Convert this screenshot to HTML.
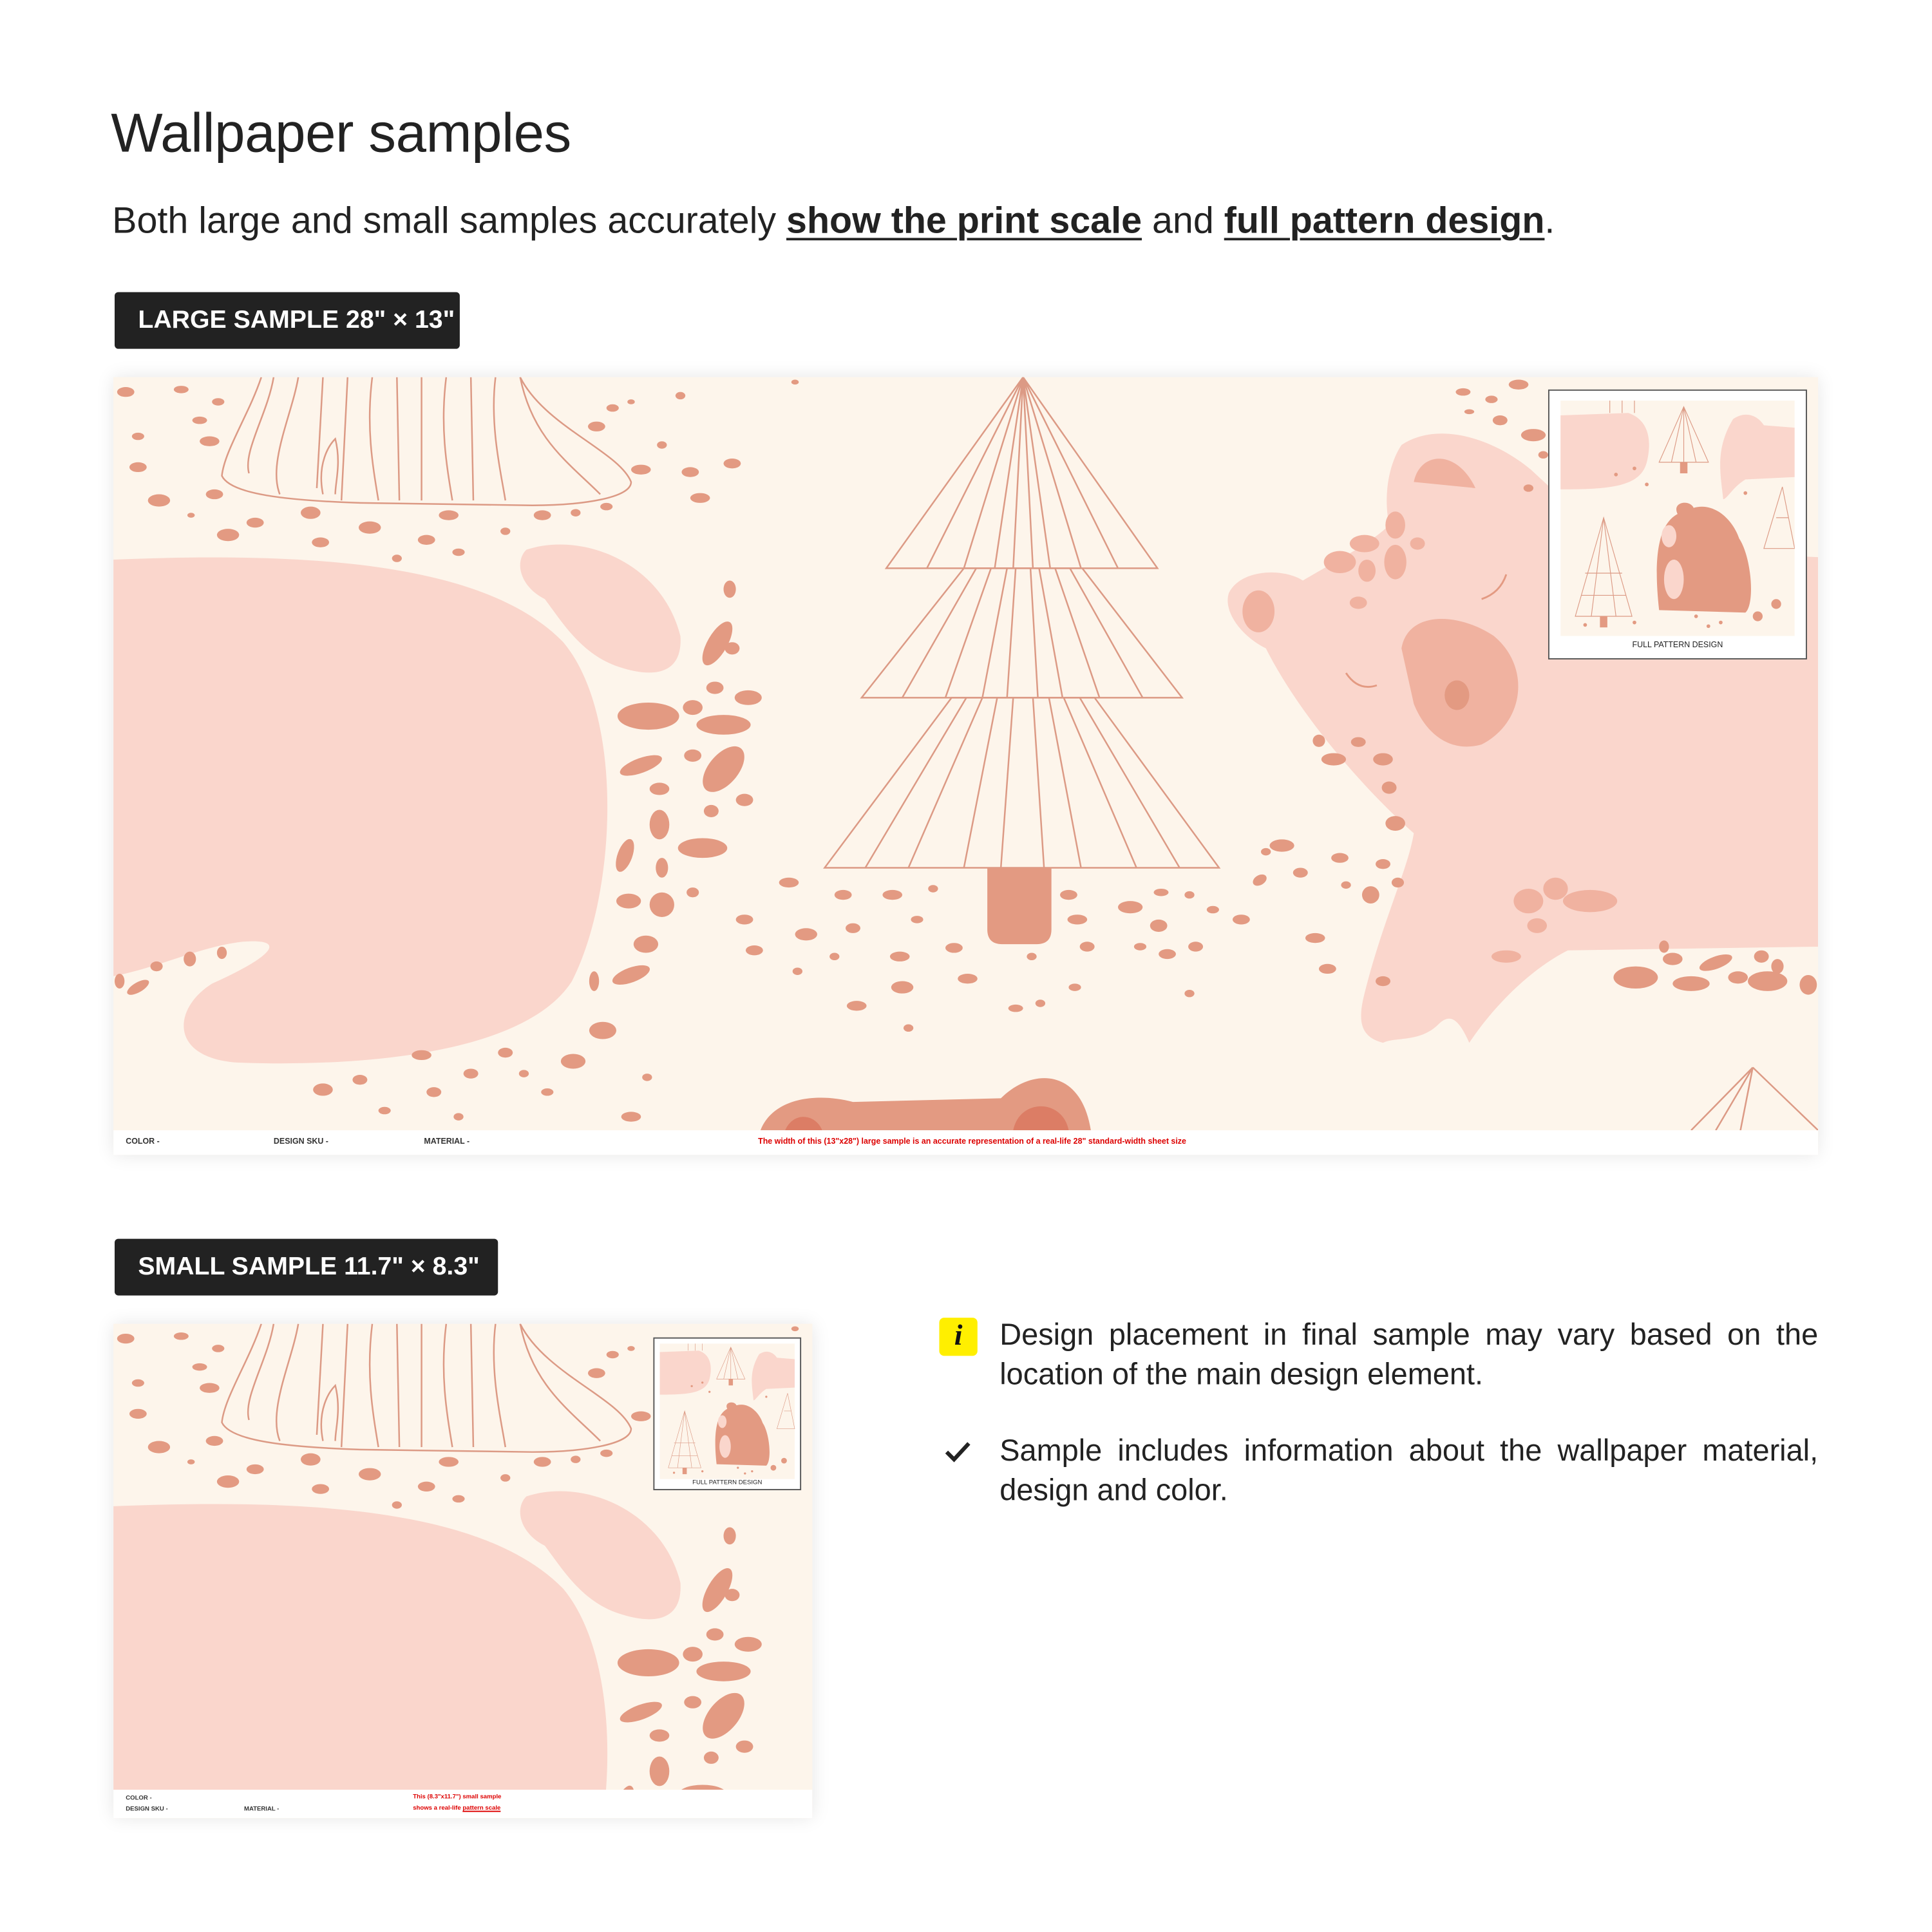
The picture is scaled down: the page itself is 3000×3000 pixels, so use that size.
<!DOCTYPE html>
<html><head><meta charset="utf-8">
<style>
html,body{margin:0;padding:0;background:#fff;width:3000px;height:3000px;overflow:hidden;position:relative}
#w{position:absolute;left:0;top:0;width:1560px;height:1560px;overflow:hidden;transform:scale(1.914);transform-origin:0 0;font-family:"Liberation Sans",sans-serif;color:#222}
.abs{position:absolute}
h1{position:absolute;left:90px;top:84px;margin:0;font-size:44.5px;font-weight:normal;letter-spacing:-0.2px}
.sub{position:absolute;left:91px;top:163px;font-size:30px;white-space:nowrap}
.sub u{font-weight:bold;text-decoration-thickness:2px;text-underline-offset:4px}
.tag{position:absolute;background:#222;color:#fff;font-weight:bold;font-size:20.5px;border-radius:3px;line-height:46px;padding:0 0 0 19px;box-sizing:border-box}
.samp{position:absolute;background:#fdf5eb;box-shadow:0 0 14px rgba(0,0,0,0.10);overflow:hidden}
.foot{position:absolute;left:0;right:0;bottom:0;background:#fff;font-size:6.5px;font-weight:bold;color:#333}
.note{position:absolute;left:811px;width:664px;font-size:24.5px;line-height:32px;text-align:justify}
</style></head><body><div id="w">
<h1>Wallpaper samples</h1>
<div class="sub">Both large and small samples accurately <u>show the print scale</u> and <u>full pattern design</u>.</div>
<div class="tag" style="left:93px;top:237px;width:280px;height:46px">LARGE SAMPLE 28" × 13"</div>

<svg width="0" height="0" style="position:absolute">
<defs>
<g id="pat">
<rect x="0" y="0" width="1383" height="611" fill="#fdf5eb"/>
<g fill="none" stroke="#dc9a85" stroke-width="1.3">
<path d="M120,0 C110,30 90,60 88,80 C95,95 140,100 200,102 L340,104 C380,104 420,98 420,85 C410,60 350,40 330,0"/>
<path d="M130,0 C125,30 105,60 110,78"/><path d="M150,0 C145,30 125,70 135,95"/>
<path d="M170,0 L165,90"/><path d="M190,0 L185,100"/><path d="M210,0 C205,40 210,70 215,100"/>
<path d="M230,0 L232,100"/><path d="M250,0 L250,100"/><path d="M270,0 C265,40 270,70 275,100"/>
<path d="M290,0 L292,100"/><path d="M310,0 C305,40 315,80 318,100"/><path d="M330,0 C340,50 370,70 395,95"/>
<path d="M170,95 C165,70 175,55 180,50 C185,70 180,85 180,95"/>
</g>
<path d="M0,148 C150,142 300,148 365,215 C415,275 408,420 372,490 C335,548 205,560 100,556 C45,552 48,512 80,492 C125,472 145,455 105,458 C70,462 40,478 0,486 Z" fill="#fad6cc"/>
<path d="M335,140 C380,125 445,150 460,210 C462,240 440,245 410,235 C380,225 365,200 350,180 C330,170 325,150 335,140 Z" fill="#fad6cc"/>
<g fill="none" stroke="#dc9a85" stroke-width="1.3">
<path d="M738,0 L627,155 L847,155 Z"/>
<path d="M738,0 L660,155 M738,0 L690,155 M738,0 L715,155 M738,0 L760,155 M738,0 L785,155 M738,0 L815,155 M738,0 L730,155 M738,0 L746,155"/>
<path d="M690,155 L786,155 L867,260 L607,260 Z"/>
<path d="M700,155 L640,260 M712,155 L675,260 M725,155 L705,260 M732,155 L725,260 M744,155 L750,260 M751,155 L770,260 M764,155 L800,260 M776,155 L835,260"/>
<path d="M680,260 L796,260 L897,398 L577,398 Z"/>
<path d="M692,260 L610,398 M705,260 L645,398 M717,260 L690,398 M730,260 L720,398 M746,260 L755,398 M759,260 L785,398 M771,260 L830,398 M784,260 L865,398"/>
</g>
<path d="M709,398 L761,398 L761,448 Q761,460 749,460 L721,460 Q709,460 709,448 Z" fill="#e39a82"/>
<path d="M1045,55 C1075,35 1120,50 1150,75 L1220,140 L1383,146 L1383,462 L1180,465 C1150,480 1120,510 1100,540 C1092,522 1085,515 1075,525 C1060,540 1040,535 1030,540 C1010,535 1010,520 1015,500 C1030,440 1050,400 1055,370 C1010,330 960,270 935,220 C915,210 900,190 905,175 C915,155 950,155 965,165 C990,150 1020,135 1035,120 C1030,95 1035,70 1045,55 Z" fill="#fad6cc"/>
<path d="M1055,85 C1060,60 1090,58 1105,90 Z" fill="#f0b2a0"/>
<ellipse cx="929" cy="190" rx="13" ry="17" fill="#f0b2a0"/>
<path d="M1045,220 C1050,190 1090,190 1120,210 C1150,235 1145,280 1110,298 C1085,305 1065,290 1055,265 Z" fill="#f0b2a0"/>
<ellipse cx="1090" cy="258" rx="10" ry="12" fill="#e39a82"/>
<g fill="#f0b2a0"><ellipse cx="1040" cy="120" rx="8" ry="11"/><ellipse cx="1015" cy="135" rx="12" ry="7"/><ellipse cx="995" cy="150" rx="13" ry="9"/><ellipse cx="1017" cy="157" rx="7" ry="9"/><ellipse cx="1040" cy="150" rx="9" ry="14"/><ellipse cx="1058" cy="135" rx="6" ry="5"/><ellipse cx="1010" cy="183" rx="7" ry="5"/>
<ellipse cx="1148" cy="425" rx="12" ry="10"/><ellipse cx="1170" cy="415" rx="10" ry="9"/><ellipse cx="1198" cy="425" rx="22" ry="9"/><ellipse cx="1155" cy="445" rx="8" ry="6"/><ellipse cx="1130" cy="470" rx="12" ry="5"/></g>
<g fill="none" stroke="#e39a82" stroke-width="1.5"><path d="M1000,240 Q1010,255 1025,250"/><path d="M1110,180 Q1125,175 1130,160"/></g>
<path d="M525,611 C535,585 570,580 600,588 L720,585 C745,560 785,560 793,611 Z" fill="#e39a82"/>
<path d="M545,611 C552,595 570,598 575,611 Z M730,611 C735,585 770,585 775,611 Z" fill="#dc7d65"/>
<g fill="none" stroke="#dc9a85" stroke-width="1.3"><path d="M1330,560 L1280,611 M1330,560 L1383,611 M1330,560 L1300,611 M1330,560 L1320,611"/></g>
<g fill="#e39a82">
<ellipse cx="10" cy="12" rx="7" ry="4"/><ellipse cx="55" cy="10" rx="6" ry="3"/><ellipse cx="85" cy="20" rx="5" ry="3"/><ellipse cx="70" cy="35" rx="6" ry="3"/><ellipse cx="20" cy="48" rx="5" ry="3"/><ellipse cx="78" cy="52" rx="8" ry="4"/><ellipse cx="20" cy="73" rx="7" ry="4"/><ellipse cx="37" cy="100" rx="9" ry="5"/><ellipse cx="63" cy="112" rx="3" ry="2"/><ellipse cx="82" cy="95" rx="7" ry="4"/><ellipse cx="93" cy="128" rx="9" ry="5"/><ellipse cx="115" cy="118" rx="7" ry="4"/><ellipse cx="160" cy="110" rx="8" ry="5"/><ellipse cx="168" cy="134" rx="7" ry="4"/><ellipse cx="208" cy="122" rx="9" ry="5"/><ellipse cx="230" cy="147" rx="4" ry="3"/><ellipse cx="254" cy="132" rx="7" ry="4"/><ellipse cx="272" cy="112" rx="8" ry="4"/><ellipse cx="280" cy="142" rx="5" ry="3"/><ellipse cx="318" cy="125" rx="4" ry="3"/><ellipse cx="348" cy="112" rx="7" ry="4"/><ellipse cx="375" cy="110" rx="4" ry="3"/><ellipse cx="400" cy="105" rx="5" ry="3"/><ellipse cx="392" cy="40" rx="7" ry="4"/><ellipse cx="405" cy="25" rx="5" ry="3"/><ellipse cx="428" cy="75" rx="8" ry="4"/><ellipse cx="445" cy="55" rx="4" ry="3"/><ellipse cx="468" cy="77" rx="7" ry="4"/><ellipse cx="476" cy="98" rx="8" ry="4"/><ellipse cx="502" cy="70" rx="7" ry="4"/><ellipse cx="460" cy="15" rx="4" ry="3"/><ellipse cx="420" cy="20" rx="3" ry="2"/><ellipse cx="553" cy="4" rx="3" ry="2"/>
<ellipse cx="490" cy="216" rx="8" ry="20" transform="rotate(30 490 216)"/><ellipse cx="500" cy="172" rx="5" ry="7"/><ellipse cx="502" cy="220" rx="6" ry="5"/><ellipse cx="488" cy="252" rx="7" ry="5"/><ellipse cx="434" cy="275" rx="25" ry="11"/><ellipse cx="470" cy="268" rx="8" ry="6"/><ellipse cx="495" cy="282" rx="22" ry="8"/><ellipse cx="515" cy="260" rx="11" ry="6"/><ellipse cx="495" cy="318" rx="12" ry="22" transform="rotate(40 495 318)"/><ellipse cx="470" cy="307" rx="7" ry="5"/><ellipse cx="428" cy="315" rx="18" ry="6" transform="rotate(-20 428 315)"/><ellipse cx="443" cy="334" rx="8" ry="5"/><ellipse cx="485" cy="352" rx="6" ry="5"/><ellipse cx="512" cy="343" rx="7" ry="5"/><ellipse cx="443" cy="363" rx="8" ry="12"/><ellipse cx="478" cy="382" rx="20" ry="8"/><ellipse cx="415" cy="388" rx="6" ry="14" transform="rotate(20 415 388)"/><ellipse cx="445" cy="398" rx="5" ry="8"/><ellipse cx="418" cy="425" rx="10" ry="6"/><ellipse cx="445" cy="428" rx="10" ry="10"/><ellipse cx="470" cy="418" rx="5" ry="4"/><ellipse cx="432" cy="460" rx="10" ry="7"/><ellipse cx="420" cy="485" rx="16" ry="6" transform="rotate(-20 420 485)"/><ellipse cx="390" cy="490" rx="4" ry="8"/><ellipse cx="397" cy="530" rx="11" ry="7"/><ellipse cx="420" cy="600" rx="8" ry="4"/><ellipse cx="433" cy="568" rx="4" ry="3"/><ellipse cx="373" cy="555" rx="10" ry="6"/><ellipse cx="352" cy="580" rx="5" ry="3"/><ellipse cx="333" cy="565" rx="4" ry="3"/><ellipse cx="318" cy="548" rx="6" ry="4"/><ellipse cx="290" cy="565" rx="6" ry="4"/><ellipse cx="260" cy="580" rx="6" ry="4"/><ellipse cx="250" cy="550" rx="8" ry="4"/><ellipse cx="200" cy="570" rx="6" ry="4"/><ellipse cx="170" cy="578" rx="8" ry="5"/><ellipse cx="220" cy="595" rx="5" ry="3"/><ellipse cx="280" cy="600" rx="4" ry="3"/>
<ellipse cx="35" cy="478" rx="5" ry="4"/><ellipse cx="62" cy="472" rx="5" ry="6"/><ellipse cx="88" cy="467" rx="4" ry="5"/><ellipse cx="20" cy="495" rx="10" ry="4" transform="rotate(-30 20 495)"/><ellipse cx="5" cy="490" rx="4" ry="6"/>
<ellipse cx="548" cy="410" rx="8" ry="4"/><ellipse cx="592" cy="420" rx="7" ry="4"/><ellipse cx="632" cy="420" rx="8" ry="4"/><ellipse cx="665" cy="415" rx="4" ry="3"/><ellipse cx="512" cy="440" rx="7" ry="4"/><ellipse cx="562" cy="452" rx="9" ry="5"/><ellipse cx="600" cy="447" rx="6" ry="4"/><ellipse cx="652" cy="440" rx="5" ry="3"/><ellipse cx="520" cy="465" rx="7" ry="4"/><ellipse cx="585" cy="470" rx="4" ry="3"/><ellipse cx="638" cy="470" rx="8" ry="4"/><ellipse cx="682" cy="463" rx="7" ry="4"/><ellipse cx="693" cy="488" rx="8" ry="4"/><ellipse cx="640" cy="495" rx="9" ry="5"/><ellipse cx="603" cy="510" rx="8" ry="4"/><ellipse cx="555" cy="482" rx="4" ry="3"/><ellipse cx="645" cy="528" rx="4" ry="3"/><ellipse cx="732" cy="512" rx="6" ry="3"/><ellipse cx="752" cy="508" rx="4" ry="3"/><ellipse cx="780" cy="495" rx="5" ry="3"/><ellipse cx="745" cy="470" rx="4" ry="3"/><ellipse cx="775" cy="420" rx="7" ry="4"/><ellipse cx="790" cy="462" rx="6" ry="4"/><ellipse cx="782" cy="440" rx="8" ry="4"/><ellipse cx="825" cy="430" rx="10" ry="5"/><ellipse cx="848" cy="445" rx="7" ry="5"/><ellipse cx="833" cy="462" rx="5" ry="3"/><ellipse cx="855" cy="468" rx="7" ry="4"/><ellipse cx="878" cy="462" rx="6" ry="4"/><ellipse cx="850" cy="418" rx="6" ry="3"/><ellipse cx="873" cy="420" rx="4" ry="3"/><ellipse cx="892" cy="432" rx="5" ry="3"/><ellipse cx="915" cy="440" rx="7" ry="4"/><ellipse cx="930" cy="408" rx="6" ry="4" transform="rotate(-30 930 408)"/><ellipse cx="948" cy="380" rx="10" ry="5"/><ellipse cx="963" cy="402" rx="6" ry="4"/><ellipse cx="935" cy="385" rx="4" ry="3"/><ellipse cx="995" cy="390" rx="7" ry="4"/><ellipse cx="1000" cy="412" rx="4" ry="3"/><ellipse cx="1020" cy="420" rx="7" ry="7"/><ellipse cx="1030" cy="395" rx="6" ry="4"/><ellipse cx="1042" cy="410" rx="5" ry="4"/><ellipse cx="1040" cy="362" rx="8" ry="6"/><ellipse cx="1035" cy="333" rx="6" ry="5"/><ellipse cx="1030" cy="310" rx="8" ry="5"/><ellipse cx="1010" cy="296" rx="6" ry="4"/><ellipse cx="990" cy="310" rx="10" ry="5"/><ellipse cx="978" cy="295" rx="5" ry="5"/><ellipse cx="975" cy="455" rx="8" ry="4"/><ellipse cx="985" cy="480" rx="7" ry="4"/><ellipse cx="1030" cy="490" rx="6" ry="4"/><ellipse cx="873" cy="500" rx="4" ry="3"/>
<ellipse cx="1235" cy="487" rx="18" ry="9"/><ellipse cx="1265" cy="472" rx="8" ry="5"/><ellipse cx="1280" cy="492" rx="15" ry="6"/><ellipse cx="1300" cy="475" rx="14" ry="5" transform="rotate(-20 1300 475)"/><ellipse cx="1318" cy="487" rx="8" ry="5"/><ellipse cx="1342" cy="490" rx="16" ry="8"/><ellipse cx="1337" cy="470" rx="6" ry="5"/><ellipse cx="1350" cy="478" rx="5" ry="6"/><ellipse cx="1375" cy="493" rx="7" ry="8"/><ellipse cx="1258" cy="462" rx="4" ry="5"/>
<ellipse cx="1095" cy="12" rx="6" ry="3"/><ellipse cx="1118" cy="18" rx="5" ry="3"/><ellipse cx="1125" cy="35" rx="6" ry="4"/><ellipse cx="1100" cy="28" rx="4" ry="2"/><ellipse cx="1152" cy="47" rx="10" ry="5"/><ellipse cx="1160" cy="63" rx="4" ry="3"/><ellipse cx="1148" cy="90" rx="4" ry="3"/><ellipse cx="1140" cy="6" rx="8" ry="4"/>
</g>
</g>
<g id="mini">
<rect x="0" y="0" width="190" height="191" fill="#fdf5eb"/>
<path d="M0,12 L55,10 C70,15 75,30 70,50 C65,70 40,72 0,72 Z" fill="#fad6cc"/>
<path d="M140,15 C150,8 160,12 165,20 L190,22 L190,62 L150,64 C140,70 135,80 132,80 C130,60 125,40 140,15 Z" fill="#fad6cc"/>
<g fill="none" stroke="#dc9a85" stroke-width="0.6"><path d="M100,5 L80,50 L120,50 Z M100,5 L90,50 M100,5 L110,50 M100,5 L100,50"/><path d="M35,95 L12,175 L58,175 Z M35,95 L25,175 M35,95 L45,175 M20,140 L50,140 M17,158 L53,158"/><path d="M180,70 L165,120 L190,120 Z M175,95 L185,95"/><path d="M40,0 L40,10 M50,0 L50,10 M60,0 L60,10"/></g>
<rect x="97" y="50" width="6" height="9" fill="#e39a82"/><rect x="32" y="175" width="6" height="9" fill="#e39a82"/>
<path d="M80,170 C75,125 80,100 95,92 C90,82 105,80 108,87 C125,82 140,97 145,112 C155,127 158,165 150,172 Z" fill="#e39a82"/>
<ellipse cx="92" cy="145" rx="8" ry="16" fill="#fad6cc"/><ellipse cx="88" cy="110" rx="6" ry="9" fill="#fad6cc"/>
<g fill="#e39a82"><circle cx="20" cy="182" r="1.5"/><circle cx="60" cy="180" r="1.5"/><circle cx="120" cy="183" r="1.5"/><circle cx="70" cy="68" r="1.5"/><circle cx="150" cy="75" r="1.5"/><circle cx="160" cy="175" r="4"/><circle cx="175" cy="165" r="4"/><circle cx="45" cy="60" r="1.5"/><circle cx="60" cy="55" r="1.5"/><circle cx="110" cy="175" r="1.5"/><circle cx="130" cy="180" r="1.5"/></g>
</g>
</defs></svg>

<div class="samp" style="left:92px;top:306px;width:1383px;height:631px">
<svg class="abs" style="left:0;top:0" width="1383" height="611"><use href="#pat"/></svg>
<div class="abs" style="left:1164px;top:10px;width:208px;height:217px;background:#fff;border:1px solid #555">
<svg class="abs" style="left:9px;top:8px" width="190" height="191"><use href="#mini"/></svg>
<div class="abs" style="left:0;right:0;top:203px;text-align:center;font-size:6.5px;color:#222">FULL PATTERN DESIGN</div>
</div>
<div class="foot" style="height:20px">
<span class="abs" style="left:10px;top:6px">COLOR -</span>
<span class="abs" style="left:130px;top:6px">DESIGN SKU -</span>
<span class="abs" style="left:252px;top:6px">MATERIAL -</span>
<span class="abs" style="left:523px;top:6px;color:#d00">The width of this (13"x28") large sample is an accurate representation of a real-life 28" standard-width sheet size</span>
</div>
</div>

<div class="tag" style="left:93px;top:1005px;width:311px;height:46px">SMALL SAMPLE 11.7" × 8.3"</div>

<div class="samp" style="left:92px;top:1074px;width:567px;height:401px">
<svg class="abs" style="left:0;top:0" width="567" height="378"><use href="#pat"/></svg>
<div class="abs" style="left:438px;top:11px;width:118px;height:122px;background:#fff;border:1px solid #555">
<svg class="abs" style="left:4px;top:4px" width="110" height="110" viewBox="0 0 190 191"><use href="#mini"/></svg>
<div class="abs" style="left:0;right:0;top:114px;text-align:center;font-size:5px;color:#222">FULL PATTERN DESIGN</div>
</div>
<div class="foot" style="height:23px;font-size:5px">
<span class="abs" style="left:10px;top:4px">COLOR -</span>
<span class="abs" style="left:10px;top:13px">DESIGN SKU -</span>
<span class="abs" style="left:106px;top:13px">MATERIAL -</span>
<span class="abs" style="left:243px;top:3px;color:#d00">This (8.3"x11.7") small sample</span>
<span class="abs" style="left:243px;top:12px;color:#d00">shows a real-life <u>pattern scale</u></span>
</div>
</div>

<div class="abs" style="left:762px;top:1069px;width:31px;height:31px;background:#ffef00;border-radius:4px;text-align:center;font:italic bold 24px 'Liberation Serif',serif;line-height:31px;color:#111">i</div>
<div class="note" style="top:1068px">Design placement in final sample may vary based on the location of the main design element.</div>
<svg class="abs" style="left:766px;top:1168px" width="22" height="20"><path d="M2,10 L8,16 L20,3" fill="none" stroke="#222" stroke-width="3.2"/></svg>
<div class="note" style="top:1162px">Sample includes information about the wallpaper material, design and color.</div>
</div></body></html>
